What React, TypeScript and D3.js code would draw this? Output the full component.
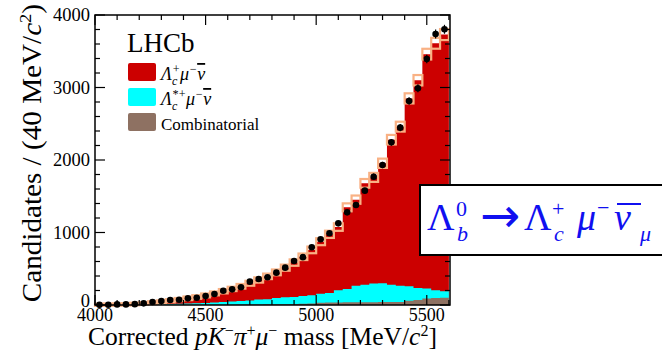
import React from "react";
import * as d3 from "d3";

// bins of 40 MeV/c^2, lower edges
const binLow = d3.range(4000, 5600, 40);

// data points (candidates per bin)
const dataCounts = [2, 3, 8, 8, 12, 23, 41, 55, 69, 73, 92, 101, 124, 152, 197, 216, 244, 322, 359, 382,
  446, 515, 607, 660, 796, 906, 989, 1126, 1278, 1379, 1577, 1770, 1931, 2244, 2446, 2814, 2989, 3393, 3738, 3803];

// fit components (stacked: combinatorial, then Lc*, then Lc)
const combinatorial = [0, 0, 0, 0, 1, 1, 1, 2, 2, 2, 3, 3, 4, 4, 5, 5, 6, 7, 8, 9,
  10, 12, 14, 17, 20, 32, 34, 36, 37, 38, 38, 38, 40, 40, 42, 60, 68, 90, 98, 100];
const lcStarMuNu = [1, 1, 2, 3, 3, 5, 7, 8, 11, 15, 17, 20, 24, 31, 35, 45, 49, 55, 67, 71,
  85, 94, 98, 108, 115, 123, 131, 169, 183, 227, 242, 257, 259, 240, 223, 198, 167, 138, 107, 90];
const lcMuNu = [2, 3, 4, 6, 10, 16, 24, 34, 45, 58, 72, 87, 104, 125, 150, 172, 203, 238, 270, 315,
  355, 409, 473, 540, 625, 718, 810, 870, 1127, 1188, 1398, 1465, 1656, 2000, 2195, 2592, 2865, 3232, 3405, 3540];
// fit uncertainty (orange boxes)
const fitUnc = [15, 15, 15, 15, 18, 18, 20, 20, 22, 22, 25, 25, 27, 27, 30, 30, 32, 34, 36, 38,
  40, 42, 44, 45, 46, 48, 50, 52, 55, 57, 60, 62, 64, 66, 68, 70, 72, 74, 75, 76];

const xTickLabels = [4000, 4500, 5000, 5500];
const yTickLabels = [0, 1000, 2000, 3000, 4000];

const W = 662;
const H = 357;
const L = 95, R = 450, T = 15, B = 305;
const BIN = 40;

const RED = "#cc0000";
const CYAN = "#00ffff";
const BROWN = "#8e7162";
const ORANGE = "#f9b184";
const BLUE = "#1010f0";
const SERIF = "'Liberation Serif', 'Times New Roman', serif";

export default function App() {
  const x = d3.scaleLinear().domain([4000, 5605]).range([L, R]);
  const y = d3.scaleLinear().domain([0, 4000]).range([B, T]);

  const rows = binLow.map((lo, i) => {
    const b = combinatorial[i];
    const c = b + lcStarMuNu[i];
    const t = c + lcMuNu[i];
    return { lo, b, c, t, d: dataCounts[i], u: fitUnc[i] };
  });
  const last = rows[rows.length - 1];
  const stepRows = [...rows, { ...last, lo: last.lo + BIN }];

  const area = (key: "b" | "c" | "t") =>
    d3.area<any>()
      .curve(d3.curveStepAfter)
      .x(d => x(d.lo))
      .y0(y(0))
      .y1(d => y(d[key]))(stepRows) || "";

  const xMinor = d3.range(4000, 5601, 100);
  const yMinor = d3.range(0, 4001, 200);

  return (
    <svg width={W} height={H} style={{ position: "fixed", left: 0, top: 0, background: "#fff" }}
      fontFamily={SERIF}>
      <rect width={W} height={H} fill="#fff" />

      {/* stacked fit components */}
      <path d={area("t")} fill={RED} />
      <path d={area("c")} fill={CYAN} />
      <path d={area("b")} fill={BROWN} />

      {/* fit uncertainty boxes */}
      {rows.map((r, i) => (
        <rect key={"u" + i} x={x(r.lo)} width={x(r.lo + BIN) - x(r.lo)}
          y={y(r.t + r.u)} height={y(r.t - r.u) - y(r.t + r.u)}
          fill="none" stroke={ORANGE} strokeWidth={2.2} />
      ))}

      {/* data points */}
      {rows.map((r, i) => {
        const cx = x(r.lo + BIN / 2);
        const e = Math.sqrt(r.d);
        return (
          <g key={"d" + i}>
            <line x1={cx} x2={cx} y1={y(r.d + e)} y2={y(Math.max(0, r.d - e))} stroke="#000" strokeWidth={1.2} />
            <circle cx={cx} cy={y(r.d)} r={3.3} fill="#000" />
          </g>
        );
      })}

      {/* frame and ticks */}
      <rect x={L} y={T} width={R - L} height={B - T} fill="none" stroke="#000" strokeWidth={1.5} />
      {xMinor.map(v => {
        const len = v % 500 === 0 ? 10 : 5;
        return (
          <g key={"xt" + v} stroke="#000" strokeWidth={1.2}>
            <line x1={x(v)} x2={x(v)} y1={B} y2={B - len} />
            <line x1={x(v)} x2={x(v)} y1={T} y2={T + len} />
          </g>
        );
      })}
      {yMinor.map(v => {
        const len = v % 1000 === 0 ? 10 : 5;
        return (
          <g key={"yt" + v} stroke="#000" strokeWidth={1.2}>
            <line x1={L} x2={L + len} y1={y(v)} y2={y(v)} />
            <line x1={R} x2={R - len} y1={y(v)} y2={y(v)} />
          </g>
        );
      })}

      {/* tick labels */}
      {xTickLabels.map(v => (
        <text key={"xl" + v} x={x(v)} y={321} textAnchor="middle" fontSize={18}>{v}</text>
      ))}
      {yTickLabels.map(v => (
        <text key={"yl" + v} x={90} y={y(v) + 6 - (v === 0 ? 4 : 0)} textAnchor="end" fontSize={18.5}>{v}</text>
      ))}

      {/* axis titles */}
      <text x={88} y={345} fontSize={25.5}>
        Corrected <tspan fontStyle="italic">pK</tspan><tspan fontSize={16} dy={-9}>−</tspan>
        <tspan fontStyle="italic" dy={9}>π</tspan><tspan fontSize={16} dy={-9}>+</tspan>
        <tspan fontStyle="italic" dy={9}>μ</tspan><tspan fontSize={16} dy={-9}>−</tspan>
        <tspan dy={9}> mass [MeV/</tspan><tspan fontStyle="italic">c</tspan>
        <tspan fontSize={16} dy={-9}>2</tspan><tspan dy={9}>]</tspan>
      </text>
      <text transform="translate(41,4) rotate(-90) scale(1.08,1)" textAnchor="end" fontSize={27}>
        Candidates / (40 MeV/<tspan fontStyle="italic">c</tspan><tspan fontSize={17} dy={-10}>2</tspan><tspan dy={10}>)</tspan>
      </text>

      {/* legend */}
      <text x={127} y={52} fontSize={27}>LHCb</text>
      <rect x={128} y={63} width={28} height={18} rx={2} fill={RED} />
      <rect x={128} y={88} width={28} height={18} rx={2} fill={CYAN} />
      <rect x={128} y={113} width={28} height={18} rx={2} fill={BROWN} />
      <text x={161} y={80} fontSize={18} fontStyle="italic">
        Λ<tspan fontSize={12} dy={5}>c</tspan><tspan fontSize={12} dx={-5.3} dy={-12}>+</tspan>
        <tspan dy={7}>μ</tspan><tspan fontSize={12} dy={-7}>−</tspan>
        <tspan dy={7} textDecoration="overline">ν</tspan>
      </text>
      <text x={161} y={105} fontSize={18} fontStyle="italic">
        Λ<tspan fontSize={12} dy={5}>c</tspan><tspan fontSize={12} dx={-5.3} dy={-12}>*+</tspan>
        <tspan dy={7}>μ</tspan><tspan fontSize={12} dy={-7}>−</tspan>
        <tspan dy={7} textDecoration="overline">ν</tspan>
      </text>
      <text x={161} y={130} fontSize={17}>Combinatorial</text>

      {/* decay annotation */}
      <rect x={420} y={185} width={250} height={70} fill="#fff" stroke="#000" strokeWidth={2} />
      <g fill={BLUE}>
        <text x={427} y={230} fontSize={38}>Λ</text>
        <text x={456} y={216} fontSize={22}>0</text>
        <text x={457} y={241} fontSize={22} fontStyle="italic">b</text>
        <text x={480} y={232} fontSize={48} fontFamily="'DejaVu Sans', sans-serif">→</text>
        <text x={524} y={230} fontSize={38}>Λ</text>
        <text x={552} y={216} fontSize={22}>+</text>
        <text x={554} y={241} fontSize={22} fontStyle="italic">c</text>
        <text x={577} y={230} fontSize={38} fontStyle="italic">μ</text>
        <text x={597} y={215} fontSize={22}>−</text>
        <text x={614} y={230} fontSize={38} fontStyle="italic">ν</text>
        <line x1={617} x2={641} y1={204} y2={204} stroke={BLUE} strokeWidth={2} />
        <text x={640} y={241} fontSize={22} fontStyle="italic">μ</text>
      </g>
    </svg>
  );
}
